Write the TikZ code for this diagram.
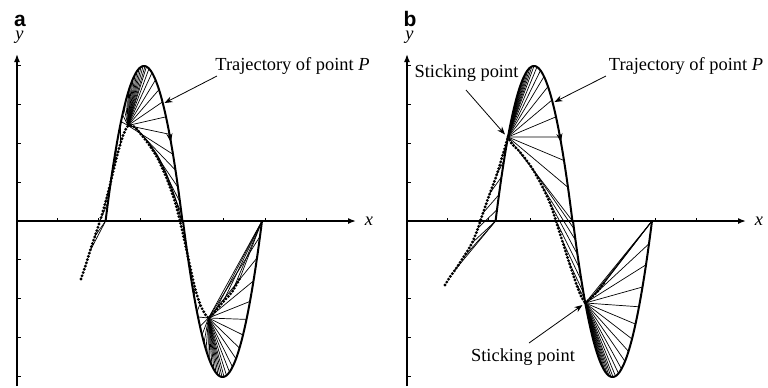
\documentclass[tikz,border=0pt]{standalone}
\usepackage{fontspec}
\setmainfont{Liberation Serif}
\newfontfamily\labfont{Liberation Sans}
\usetikzlibrary{arrows.meta}
\begin{document}
\begin{tikzpicture}[x=0.5pt,y=-0.5pt,
  axis/.style={line width=0.75pt,-{Latex[length=4pt,width=3pt]}},
  tickmk/.style={line width=0.5pt},
  traj/.style={line width=1pt,line join=round},
  ray/.style={line width=0.35pt},
  dotc/.style={line width=1.6pt,line cap=round,dash pattern=on 0pt off 1.7pt},
  qline/.style={line width=0.5pt},
  lab/.style={line width=0.4pt,-{Stealth[length=4pt,width=3pt]}},
  txt/.style={font=\fontsize{9.2}{11}\selectfont, inner sep=0pt},
  panel/.style={font=\labfont\bfseries\fontsize{10.5}{12}\selectfont,inner sep=0pt},
  declare function={TU(\x)=66+0.105*(\x-144)*(\x-144); TL(\x)=377-0.1*(\x-222.5)*(\x-222.5);}
]
\useasboundingbox (0,0) rectangle (768,387);
% ---------- axes ----------
\foreach \sx/\nm in {0/a,390/b}{
 \begin{scope}[shift={(\sx,0)}]
  \coordinate (O\nm) at (17,221);
  \coordinate (Xe\nm) at (356,221);
  \coordinate (Yb\nm) at (17,386);
  \coordinate (Ye\nm) at (17,54);
  \draw[axis] (O\nm) -- (Xe\nm);
  \draw[axis] (Yb\nm) -- (Ye\nm);
  \foreach \k in {1,...,4}{
    \draw[tickmk] (17,{221-\k*38.875}) -- ++(3.5,0);
    \draw[tickmk] (17,{221+\k*38.875}) -- ++(3.5,0);}
  \foreach \k in {0,...,6}
    \draw[tickmk] ({57+\k*41.65},221) -- ++(0,-3.5);
  \node[txt] (xl\nm) at (369,221) {\textit{x}};
  \node[txt,anchor=base] (yl\nm) at (19.5,39) {\textit{y}};
 \end{scope}}
\node[panel,anchor=base] (pa) at (20,26.5) {a};
\node[panel,anchor=base] (pb) at (410,26.5) {b};
% ---------- panel a ----------
\coordinate (P0a) at (105.6,221);
\coordinate (S1a) at (128,125.5);
\coordinate (S2a) at (208.5,318);
\coordinate (Ea) at (262,221);
\foreach \qx/\qy in {90/251,95/236} \draw[ray] (P0a) -- (\qx,\qy);
\foreach \qx/\qy/\px in {100/221/108,105/204/111,110/185/114,115/164/117,120/145/120}
  \draw[ray] (\qx,\qy) -- (\px,{TU(\px)});
\foreach \u in {121,122.5,124,125.5,127,128.5,130,131.5,133,135,137,139,141,143,145,146.5,149,152,155.5,159,162.5,166,169.5,173}
  \draw[ray] (S1a) -- (\u,{TU(\u)});
\foreach \qx/\qy/\px in {140/133/175.5,150/146/178,158/159/180,167/179/181.5}
  \draw[ray] (\qx,\qy) -- (\px,{TU(\px)});
\foreach \qx/\qy/\px in {185/243/188,190/266/191,195/288/194,200/304/197}
  \draw[ray] (\qx,\qy) -- (\px,{TL(\px)});
\foreach \u in {198,200,202,204,206,208,210,212,214,216,218,220,222,224,226.5,229.5,232.5,236,239.5,243,246.5,250,253.5,257,260,262}
  \draw[ray] (S2a) -- (\u,{TL(\u)});
\foreach \qx/\qy in {214/313,223/302,232/292,240/278} \draw[ray] (Ea) -- (\qx,\qy);
\draw[qline] plot[smooth,tension=0.5] coordinates {(128,125.5) (134,127) (141,133.5) (151,146) (159.5,159) (168.5,179) (176.5,202) (181.5,221)};
\draw[dotc] plot[smooth,tension=0.5] coordinates {(81,279) (86,264) (90,251) (95,236) (100,221) (105,204) (110,185) (115,164) (120,145) (124,133) (128,126) (133,126) (140,133) (150,146) (158,159) (167,179) (175,202) (180,221) (185,243) (190,266) (195,288) (200,304) (205,314) (209,318) (214,313) (223,302) (232,292) (240,278)};
\draw[traj] plot[domain=105.6:182.4,samples=80] (\x,{TU(\x)}) -- plot[domain=183:262,samples=80] (\x,{TL(\x)});
\draw[traj,-{Stealth[length=4.5pt,width=3pt]}] (169.5,{TU(169.5)}) -- (171,{TU(171)});
\node[txt,anchor=base] (tla) at (292.5,70) {Trajectory of point \textit{P}};
\coordinate (tlaS) at (217,76);
\coordinate (tlaT) at (164.5,103);
\draw[lab] (tlaS) -- (tlaT);
% ---------- panel b ----------
\begin{scope}[shift={(390,0)}]
\coordinate (P0b) at (105.6,221);
\coordinate (S1b) at (118,137);
\coordinate (S2b) at (195.3,303);
\coordinate (Eb) at (262,221);
\foreach \qx/\qy in {65/270,73/258,82/243} \draw[ray] (P0b) -- (\qx,\qy);
\foreach \qx/\qy/\px in {88/228/107,93/213/109,100/193/111.5,107/174/114,113/154/116.5}
  \draw[ray] (\qx,\qy) -- (\px,{TU(\px)});
\foreach \u in {119.5,121,122.5,124,125.5,127,128.5,130,132,134,136,138,140,142,144,147,150.5,154,158,162,166,170,174,178,182.4}
  \draw[ray] (S1b) -- (\u,{TU(\u)});
\foreach \qx/\qy/\px in {142/168/184,152/186/185.5,160/203/187.5,166/221/189.5,172/240/191.5,179/262/193.5,186/283/194.5}
  \draw[ray] (\qx,\qy) -- (\px,{TL(\px)});
\foreach \u in {197,199,201,203,205,207,209,211,213,215,217,219,221,223,225.5,228.5,231.5,235,238.5,242,245.5,249,252.5,256,259,262}
  \draw[ray] (S2b) -- (\u,{TL(\u)});
\foreach \qx/\qy in {201/298,208/291,214/283} \draw[ray] (Eb) -- (\qx,\qy);
\draw[dotc] plot[smooth,tension=0.5] coordinates {(55,285) (60,277) (65,270) (73,258) (82,243) (88,228) (93,213) (100,193) (107,174) (113,154) (118,137)};
\draw[dotc] plot[smooth,tension=0.5] coordinates {(118,137) (122,144) (130,152) (142,168) (152,186) (160,203) (166,221) (172,240) (179,262) (186,283) (191,296) (195.3,303)};
\draw[dotc] plot[smooth,tension=0.5] coordinates {(195.3,303) (201,298) (208,291) (214,283)};
\draw[traj] plot[domain=105.6:182.4,samples=80] (\x,{TU(\x)}) -- plot[domain=183:262,samples=80] (\x,{TL(\x)});
\draw[traj,-{Stealth[length=4.5pt,width=3pt]}] (169.5,{TU(169.5)}) -- (171,{TU(171)});
\end{scope}
\node[txt,anchor=base] (tlb) at (686,70) {Trajectory of point \textit{P}};
\coordinate (tlbS) at (606,76);
\coordinate (tlbT) at (554.5,102);
\draw[lab] (tlbS) -- (tlbT);
\node[txt,anchor=base] (stb1) at (466.5,77.5) {Sticking point};
\coordinate (stb1S) at (466,90);
\coordinate (stb1T) at (505,134.5);
\draw[lab] (stb1S) -- (stb1T);
\node[txt,anchor=base] (stb2) at (523,361.5) {Sticking point};
\coordinate (stb2S) at (529,343);
\coordinate (stb2T) at (582.5,305);
\draw[lab] (stb2S) -- (stb2T);
\end{tikzpicture}
\end{document}
